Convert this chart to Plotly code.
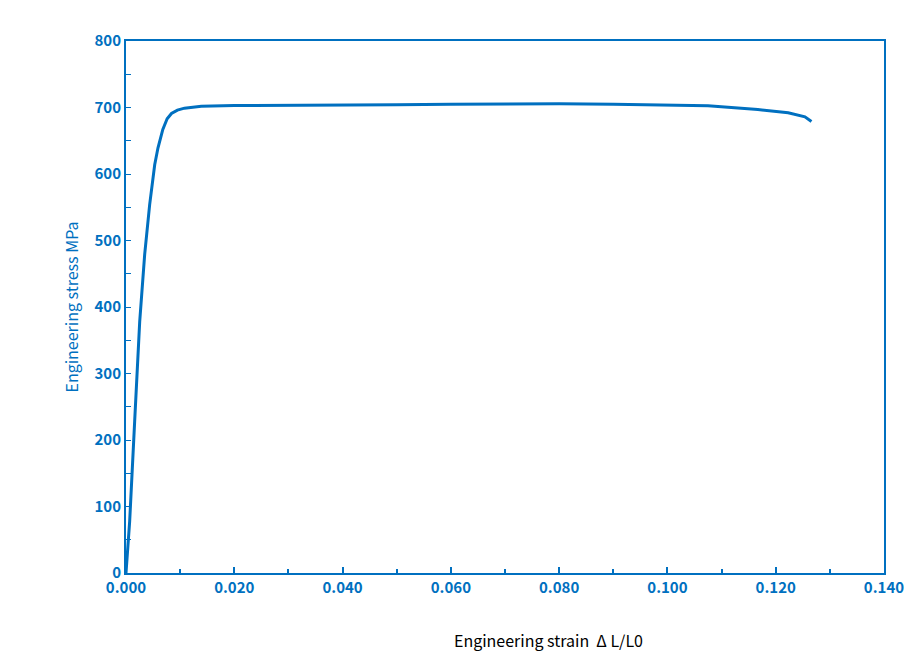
import plotly.graph_objects as go

strain = [0, 0.00068, 0.0016, 0.00253, 0.00345, 0.00437, 0.0053, 0.0059, 0.0068, 0.0076, 0.0084, 0.0095, 0.0108, 0.0139,
          0.020, 0.030, 0.040, 0.050, 0.060, 0.070, 0.075, 0.080, 0.090, 0.1, 0.1075, 0.1167, 0.1223, 0.1254, 0.1266]
stress = [0, 78, 228, 378, 479, 554, 614, 639, 667, 683, 691, 696, 699, 702,
          703, 703, 703.5, 704, 705, 705.5, 706, 705.5, 705, 704, 702.5, 697, 692, 686, 679]

BLUE = "#0070C0"
fig = go.Figure(go.Scatter(x=strain, y=stress, mode="lines", line=dict(color=BLUE, width=3)))
font = "Noto Sans CJK JP, Noto Sans, sans-serif"
fig.update_layout(
    width=912, height=666, margin=dict(l=118, r=36, t=33, b=101, autoexpand=False),
    plot_bgcolor="white", paper_bgcolor="white", showlegend=False,
    font=dict(family=font, color=BLUE),
    xaxis=dict(range=[0, 0.14], dtick=0.02, tickformat=".3f", showgrid=False, zeroline=False, automargin=False,
               showline=True, linecolor=BLUE, linewidth=2, mirror=True,
               ticks="inside", ticklen=6, tickcolor=BLUE, tickwidth=2,
               minor=dict(dtick=0.01, ticks="inside", ticklen=4, tickcolor=BLUE),
               tickfont=dict(size=15, color=BLUE, family=font, weight="bold")),
    yaxis=dict(range=[0, 800], dtick=100, showgrid=False, zeroline=False, automargin=False,
               showline=True, linecolor=BLUE, linewidth=2, mirror=True,
               ticks="inside", ticklen=5, tickcolor=BLUE, tickwidth=1,
               minor=dict(dtick=50, ticks="inside", ticklen=5, tickcolor=BLUE),
               tickfont=dict(size=15, color=BLUE, family=font, weight="bold"),
               title=dict(text="Engineering stress MPa", font=dict(size=16, color=BLUE, family=font), standoff=12)),
    annotations=[dict(text="Engineering strain  Δ L/L0", x=(540-118)/758, y=-(632-565)/532,
                      xref="paper", yref="paper", xanchor="center", yanchor="middle",
                      showarrow=False, font=dict(size=16, color="black", family=font))],
)
fig.write_html("out.html")
